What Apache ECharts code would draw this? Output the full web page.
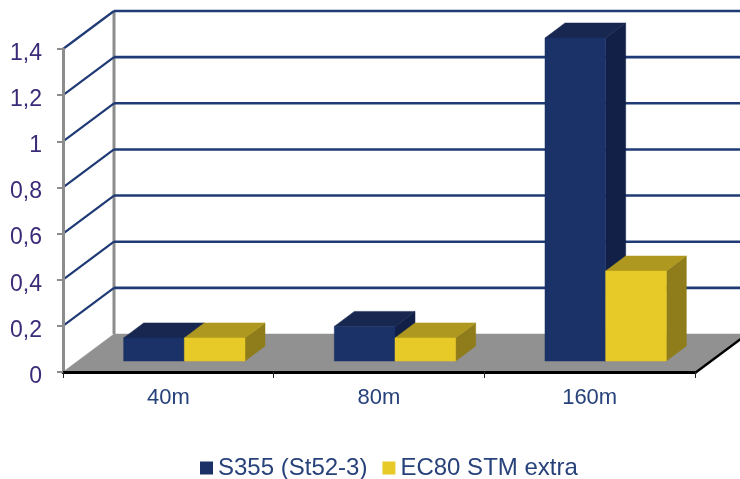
<!DOCTYPE html>
<html><head><meta charset="utf-8">
<style>html,body{margin:0;padding:0;background:#fff}#c{width:740px;height:479px}</style>
<script src="https://cdn.jsdelivr.net/npm/echarts@6/dist/echarts.min.js"></script>
</head><body><div id="c"></div>
<script>
const categories = ['40m', '80m', '160m'];
const s355 = [0.1, 0.15, 1.4];
const ec80 = [0.1, 0.1, 0.39];
const yTicks = [0.2, 0.4, 0.6, 0.8, 1, 1.2, 1.4];
const seriesNames = ['S355 (St52-3)', 'EC80 STM extra'];

const WALL = [51, -38], BAR_FRONT = [16, -11], BAR_DEPTH = [20, -15];
const BAR_RATIO = 0.288;
const FONT = '"Liberation Sans", Arial, sans-serif';
const LINE = '#1f3a75';

function poly(points, fill) {
  return { type: 'polygon', shape: { points }, style: { fill, stroke: fill, lineWidth: 0.5 } };
}
function seg(x1, y1, x2, y2, stroke, lineWidth) {
  return { type: 'line', shape: { x1, y1, x2, y2 }, style: { stroke, lineWidth } };
}
function barRenderer(values, side, colors) {
  return function (params, api) {
    const i = api.value(0);
    const bw = api.size([1, 0])[0] * BAR_RATIO;
    const top = api.coord([i, api.value(1)]);
    const base = api.coord([i, 0]);
    const x0 = top[0] + BAR_FRONT[0] + (side === 0 ? -bw : 0);
    const x1 = x0 + bw;
    const yT = top[1] + BAR_FRONT[1];
    const yB = base[1] + BAR_FRONT[1];
    const dx = BAR_DEPTH[0], dy = BAR_DEPTH[1];
    return { type: 'group', children: [
      poly([[x1, yT], [x1 + dx, yT + dy], [x1 + dx, yB + dy], [x1, yB]], colors[2]),
      poly([[x0, yT], [x0 + dx, yT + dy], [x1 + dx, yT + dy], [x1, yT]], colors[1]),
      poly([[x0, yT], [x1, yT], [x1, yB], [x0, yB]], colors[0])
    ] };
  };
}
const chart = echarts.init(document.getElementById('c'), null, { renderer: 'canvas' });
chart.setOption({
  animation: false,
  backgroundColor: '#fff',
  grid: { left: 63, right: 45, top: 49, bottom: 107 },
  legend: {
    data: seriesNames, left: 195, top: 451, icon: 'rect', itemWidth: 13, itemHeight: 13, itemGap: 15,
    textStyle: { fontFamily: FONT, fontSize: 24, color: '#27427a' }
  },
  xAxis: {
    type: 'category', data: categories, z: 6,
    axisLine: { lineStyle: { color: '#000', width: 3 } },
    axisTick: { show: true, length: 6, alignWithLabel: false, lineStyle: { color: '#222', width: 1 } },
    axisLabel: { fontFamily: FONT, fontSize: 22, color: '#27427a', margin: 15 }
  },
  yAxis: {
    type: 'value', min: 0, max: 1.4, interval: 0.2, z: 6,
    splitLine: { show: false },
    axisLine: { show: true, lineStyle: { color: '#8c8c8c', width: 3 } },
    axisTick: { show: true, length: 6, lineStyle: { color: '#8c8c8c', width: 2 } },
    axisLabel: { margin: 21,
      rich: { t: { fontFamily: FONT, fontSize: 23, color: '#3b2a78', padding: [9, 0, 0, 0] } },
      formatter: v => '{t|' + String(+v.toFixed(1)).replace('.', ',') + '}' }
  },
  series: [
    { type: 'custom', name: 'floor', z: 1, silent: true, data: [[0]], encode: { x: 0 },
      renderItem(params, api) {
        const c = params.coordSys, yB = c.y + c.height, xR = c.x + c.width, xL = c.x;
        return { type: 'group', children: [
          poly([[xL, yB], [xR, yB], [xR + WALL[0], yB + WALL[1]], [xL + WALL[0], yB + WALL[1]]], '#919191'),
          seg(xR, yB + 1, xR + WALL[0], yB + 1 + WALL[1], '#000', 2.5),
          seg(xL + WALL[0], yB + WALL[1], xL + WALL[0], c.y + WALL[1], '#8c8c8c', 3)
        ] };
      } },
    { type: 'custom', name: 'wall', z: 2, silent: true, data: yTicks.map(v => [0, v]), encode: { x: 0, y: 1 },
      renderItem(params, api) {
        const c = params.coordSys, p = api.coord([0, api.value(1)]), xL = c.x, xR = c.x + c.width;
        return { type: 'group', children: [
          seg(xL, p[1], xL + WALL[0], p[1] + WALL[1], LINE, 2.2),
          seg(xL + WALL[0], p[1] + WALL[1], xR + WALL[0], p[1] + WALL[1], LINE, 2.6)
        ] };
      } },
    { type: 'custom', name: seriesNames[0], z: 3, itemStyle: { color: '#1a3268' },
      data: categories.map((_, i) => [i, s355[i]]), encode: { x: 0, y: 1 },
      renderItem: barRenderer(s355, 0, ['#1a3268', '#17274f', '#121f47']) },
    { type: 'custom', name: seriesNames[1], z: 4, itemStyle: { color: '#e7c927' },
      data: categories.map((_, i) => [i, ec80[i]]), encode: { x: 0, y: 1 },
      renderItem: barRenderer(ec80, 1, ['#e7c927', '#ae981f', '#8f7c1a']) }
  ]
});
</script></body></html>
